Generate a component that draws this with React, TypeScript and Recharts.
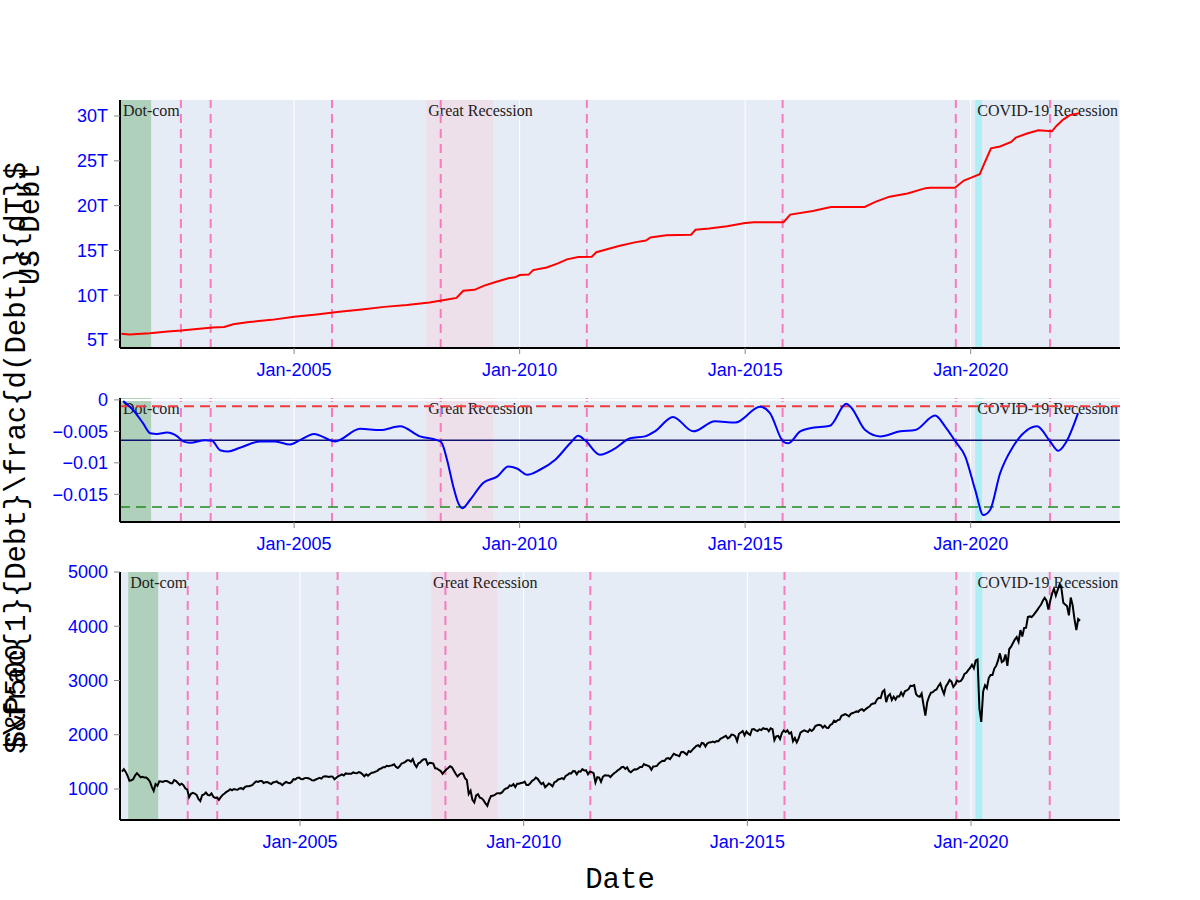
import React from 'react';
import { LineChart, Line, XAxis, YAxis, CartesianGrid, ReferenceArea, ReferenceLine } from 'recharts';

// recessions (decimal years)
const RECESSION_NAMES = ['Dot-com', 'Great Recession', 'COVID-19 Recession'];
const RECESSION_START = [2001.16, 2007.93, 2020.1];
const RECESSION_END = [2001.83, 2009.41, 2020.25];
const RECESSION_FILL = ['#AFD1BB', '#EEE0EA', '#AEEFF5'];

// debt ceiling events
const CEILING_DATES = [2002.49, 2003.15, 2005.84, 2008.25, 2011.49, 2015.83, 2019.67, 2021.76];

const YEAR_TICKS = [2005, 2010, 2015, 2020];

// US debt, trillions
const DEBT_DATES = [
  2001.17, 2001.35, 2001.8, 2002.2, 2002.5, 2002.9, 2003.2, 2003.45, 2003.65, 2004.0,
  2004.5, 2005.0, 2005.5, 2006.0, 2006.5, 2007.0, 2007.5, 2008.0, 2008.3, 2008.6,
  2008.75, 2009.0, 2009.2, 2009.45, 2009.75, 2009.9, 2010.0, 2010.2, 2010.3, 2010.6,
  2010.85, 2011.05, 2011.3, 2011.6, 2011.7, 2012.2, 2012.55, 2012.8, 2012.9, 2013.25,
  2013.8, 2013.9, 2014.2, 2014.6, 2015.0, 2015.2, 2015.85, 2016.0, 2016.5, 2016.9,
  2017.1, 2017.65, 2017.9, 2018.2, 2018.6, 2019.0, 2019.1, 2019.65, 2019.85, 2020.0,
  2020.2, 2020.3, 2020.45, 2020.65, 2020.9, 2021.0, 2021.25, 2021.5, 2021.8, 2021.9,
  2022.05, 2022.2, 2022.4,
];
const DEBT_VALUES = [
  5.7, 5.62, 5.75, 5.95, 6.05, 6.25, 6.4, 6.45, 6.75, 7.0,
  7.25, 7.6, 7.85, 8.15, 8.4, 8.7, 8.9, 9.2, 9.45, 9.7,
  10.5, 10.6, 11.05, 11.45, 11.9, 12.0, 12.25, 12.3, 12.8, 13.1,
  13.55, 14.0, 14.26, 14.3, 14.8, 15.5, 15.9, 16.1, 16.45, 16.7,
  16.75, 17.3, 17.45, 17.7, 18.05, 18.15, 18.15, 19.0, 19.4, 19.85,
  19.85, 19.85, 20.45, 21.0, 21.35, 21.95, 22.0, 22.0, 22.8, 23.1,
  23.5, 24.7, 26.4, 26.6, 27.1, 27.6, 28.05, 28.4, 28.3, 28.9,
  29.6, 30.1, 30.3,
];

// relative growth rate of debt
const GROWTH_DATES = [
  2001.21, 2001.43, 2001.65, 2001.81, 2001.96, 2002.18, 2002.41, 2002.54, 2002.69, 2003.03,
  2003.18, 2003.36, 2003.54, 2003.8, 2004.25, 2004.58, 2004.91, 2005.13, 2005.44, 2005.91,
  2006.46, 2006.91, 2007.35, 2007.79, 2008.17, 2008.26, 2008.39, 2008.53, 2008.64, 2008.73,
  2008.9, 2009.19, 2009.5, 2009.75, 2009.94, 2010.17, 2010.45, 2010.79, 2011.12, 2011.3,
  2011.45, 2011.78, 2012.12, 2012.45, 2012.78, 2013.0, 2013.4, 2013.85, 2014.33, 2014.78,
  2015.33, 2015.55, 2015.84, 2015.95, 2016.22, 2016.44, 2016.88, 2017.24, 2017.35, 2017.66,
  2017.99, 2018.44, 2018.77, 2019.21, 2019.43, 2019.66, 2019.88, 2020.1, 2020.28, 2020.43,
  2020.65, 2020.94, 2021.25, 2021.47, 2021.76, 2021.94, 2022.1, 2022.38,
];
const GROWTH_VALUES = [
  -0.0002, -0.0016, -0.0037, -0.0053, -0.0054, -0.0052, -0.0058, -0.0066, -0.0068, -0.0064,
  -0.0065, -0.008, -0.0082, -0.0076, -0.0066, -0.0066, -0.0071, -0.0064, -0.0054, -0.0066,
  -0.0046, -0.0048, -0.0042, -0.0058, -0.0064, -0.0067, -0.0095, -0.0138, -0.0164, -0.0172,
  -0.0159, -0.0132, -0.0122, -0.0106, -0.0109, -0.0119, -0.0111, -0.0095, -0.0069, -0.0057,
  -0.0064, -0.0087, -0.0077, -0.0061, -0.0058, -0.005, -0.0027, -0.005, -0.0034, -0.0036,
  -0.0011, -0.0021, -0.0066, -0.0069, -0.005, -0.0045, -0.0041, -0.0006, -0.0012, -0.0048,
  -0.0058, -0.005, -0.0048, -0.0025, -0.0042, -0.0066, -0.009, -0.0143, -0.0183, -0.0175,
  -0.0117, -0.0074, -0.0048, -0.0042, -0.0066, -0.0081, -0.0069, -0.0021,
];
const GROWTH_UPPER = -0.001;
const GROWTH_MEAN = -0.0064;
const GROWTH_LOWER = -0.017;

// S&P 500, two readings per month starting Jan 2001
const SP_START = 2001;
const SP500 = [
  1320, 1366, 1315, 1240, 1150, 1160, 1180, 1249, 1290, 1256, 1215, 1224, 1210, 1211, 1180, 1134, 1040, 966, 1090, 1059, 1140, 1139, 1130, 1148,
  1146, 1130, 1107, 1106, 1165, 1147, 1111, 1076, 1098, 1067, 1007, 990, 847, 912, 930, 916, 890, 815, 776, 885, 900, 936, 890, 880,
  918, 855, 834, 841, 800, 848, 890, 916, 945, 963, 995, 975, 1000, 990, 985, 1008, 1015, 996, 1040, 1050, 1050, 1058, 1075, 1112,
  1140, 1131, 1145, 1145, 1110, 1126, 1130, 1107, 1090, 1121, 1130, 1140, 1110, 1101, 1070, 1104, 1130, 1115, 1105, 1130, 1180, 1174, 1205, 1212,
  1185, 1181, 1200, 1203, 1197, 1180, 1160, 1157, 1175, 1191, 1206, 1191, 1228, 1234, 1230, 1220, 1230, 1228, 1180, 1207, 1235, 1249, 1270, 1248,
  1287, 1280, 1280, 1280, 1305, 1294, 1290, 1310, 1300, 1270, 1235, 1270, 1245, 1276, 1300, 1303, 1320, 1335, 1365, 1377, 1400, 1400, 1427, 1418,
  1430, 1438, 1455, 1406, 1387, 1420, 1470, 1482, 1500, 1530, 1530, 1503, 1550, 1455, 1406, 1473, 1490, 1527, 1550, 1549, 1450, 1481, 1480, 1468,
  1380, 1378, 1350, 1330, 1280, 1323, 1360, 1386, 1420, 1400, 1340, 1280, 1230, 1267, 1290, 1283, 1200, 1166, 910, 969, 800, 752, 880, 903,
  840, 826, 790, 735, 690, 798, 870, 873, 890, 919, 920, 919, 940, 987, 1010, 1021, 1065, 1057, 1090, 1036, 1095, 1096, 1110, 1115,
  1136, 1074, 1075, 1104, 1150, 1169, 1210, 1187, 1135, 1089, 1115, 1031, 1065, 1102, 1080, 1049, 1125, 1141, 1176, 1183, 1200, 1180, 1240, 1258,
  1290, 1286, 1330, 1327, 1270, 1326, 1320, 1364, 1340, 1345, 1270, 1321, 1310, 1292, 1120, 1219, 1210, 1131, 1225, 1253, 1250, 1247, 1220, 1258,
  1290, 1312, 1345, 1366, 1400, 1408, 1370, 1398, 1330, 1310, 1340, 1362, 1360, 1379, 1405, 1406, 1460, 1441, 1430, 1412, 1355, 1416, 1420, 1426,
  1472, 1498, 1520, 1515, 1560, 1569, 1550, 1598, 1650, 1631, 1620, 1606, 1680, 1686, 1660, 1633, 1700, 1682, 1720, 1757, 1790, 1806, 1780, 1848,
  1840, 1783, 1840, 1859, 1860, 1872, 1860, 1884, 1880, 1924, 1940, 1960, 1980, 1931, 1955, 2003, 1998, 1972, 1880, 2018, 2040, 2068, 1990, 2059,
  2020, 1995, 2100, 2104, 2080, 2068, 2100, 2086, 2120, 2107, 2110, 2063, 2120, 2104, 1900, 1972, 1980, 1920, 2030, 2079, 2050, 2080, 2020, 2044,
  1880, 1940, 1860, 1932, 2040, 2060, 2080, 2065, 2050, 2097, 2070, 2099, 2160, 2174, 2185, 2171, 2130, 2168, 2130, 2126, 2180, 2199, 2260, 2239,
  2270, 2279, 2350, 2364, 2380, 2363, 2340, 2384, 2400, 2412, 2430, 2423, 2460, 2470, 2440, 2472, 2500, 2519, 2560, 2575, 2580, 2648, 2680, 2674,
  2790, 2824, 2600, 2714, 2750, 2641, 2700, 2648, 2710, 2705, 2780, 2718, 2800, 2816, 2840, 2902, 2900, 2914, 2750, 2711, 2700, 2760, 2550, 2351,
  2600, 2704, 2775, 2784, 2820, 2834, 2900, 2946, 2840, 2752, 2890, 2942, 3010, 2980, 2880, 2926, 3000, 2977, 2990, 3038, 3120, 3141, 3190, 3231,
  3290, 3226, 3370, 3386, 2480, 2237, 2800, 2912, 2860, 3044, 3100, 3100, 3220, 3271, 3370, 3500, 3340, 3363, 3480, 3270, 3580, 3622, 3690, 3756,
  3800, 3714, 3930, 3811, 3970, 3973, 4170, 4181, 4170, 4204, 4250, 4298, 4350, 4395, 4470, 4523, 4470, 4308, 4470, 4605, 4690, 4567, 4670, 4766,
  4700, 4432, 4400, 4374, 4200, 4530, 4390, 4132, 3930, 4132, 4100,
];

const debtData = DEBT_DATES.map((t, i) => ({ t, v: DEBT_VALUES[i] }));
const growthData = GROWTH_DATES.map((t, i) => ({ t, v: GROWTH_VALUES[i] }));
const spData = SP500.map((v, i) => ({ t: SP_START + i / 24 + 1 / 48, v }));

const tickStyle = { fill: '#0000FF', fontSize: 18, fontFamily: "'Liberation Sans', Arial, sans-serif" };
const axisLine = { stroke: '#000', strokeWidth: 2 };
const tickLine = { stroke: '#888' };
const monoFont = "'Liberation Mono', 'DejaVu Sans Mono', monospace";
const PINK = '#F77BBE';

function BandLabel(props: any) {
  const { viewBox, caption } = props;
  if (!viewBox) return null;
  return (
    <text
      x={viewBox.x + 2}
      y={viewBox.y + 16}
      fontFamily="'Liberation Serif', 'Times New Roman', serif"
      fontSize={16}
      fill="#222"
    >
      {caption}
    </text>
  );
}

function bands() {
  return RECESSION_NAMES.map((name, i) => (
    <ReferenceArea
      key={name}
      x1={RECESSION_START[i]}
      x2={RECESSION_END[i]}
      fill={RECESSION_FILL[i]}
      fillOpacity={1}
      stroke="none"
      label={<BandLabel caption={name} />}
    />
  ));
}

function ceilings() {
  return CEILING_DATES.map((d) => (
    <ReferenceLine key={d} x={d} stroke={PINK} strokeWidth={2} strokeDasharray="9 6" />
  ));
}

const xFmt = (v: number) => `Jan-${v}`;

export default function App() {
  return (
    <div style={{ position: 'absolute', left: 0, top: 0, width: 1200, height: 900, background: '#fff' }}>
      <div style={{ position: 'absolute', left: 0, top: 0 }}>
        <LineChart width={1200} height={400} data={debtData} margin={{ top: 100, right: 80, bottom: 0, left: 60 }}>
          <CartesianGrid horizontal={false} stroke="#fff" fill="#E5ECF6" />
          {bands()}
          {ceilings()}
          <XAxis
            dataKey="t"
            type="number"
            domain={[2001.14, 2023.31]}
            allowDataOverflow
            ticks={YEAR_TICKS}
            interval={0}
            tickFormatter={xFmt}
            height={52}
            tick={tickStyle}
            tickLine={tickLine}
            axisLine={axisLine}
            tickSize={6}
            tickMargin={9}
          />
          <YAxis
            type="number"
            domain={[4.11, 31.79]}
            allowDataOverflow
            ticks={[5, 10, 15, 20, 25, 30]}
            interval={0}
            tickFormatter={(v: number) => `${v}T`}
            width={60}
            tick={tickStyle}
            tickLine={tickLine}
            axisLine={axisLine}
            tickSize={6}
            tickMargin={6}
          />
          <Line dataKey="v" type="linear" stroke="#FF0000" strokeWidth={2} dot={false} activeDot={false} isAnimationActive={false} />
        </LineChart>
      </div>

      <div style={{ position: 'absolute', left: 0, top: 390 }}>
        <LineChart width={1200} height={170} data={growthData} margin={{ top: 8, right: 80, bottom: 0, left: 60 }}>
          <CartesianGrid horizontal={false} stroke="#fff" fill="#E5ECF6" />
          {bands()}
          {ceilings()}
          <ReferenceLine y={0} stroke="#fff" strokeWidth={2} />
          <ReferenceLine y={GROWTH_UPPER} stroke="#F03C3C" strokeWidth={2} strokeDasharray="10 6" />
          <ReferenceLine y={GROWTH_LOWER} stroke="#228B22" strokeWidth={1.5} strokeDasharray="10 6" />
          <ReferenceLine y={GROWTH_MEAN} stroke="#101070" strokeWidth={1.5} />
          <XAxis
            dataKey="t"
            type="number"
            domain={[2001.14, 2023.31]}
            allowDataOverflow
            ticks={YEAR_TICKS}
            interval={0}
            tickFormatter={xFmt}
            height={38}
            tick={tickStyle}
            tickLine={tickLine}
            axisLine={axisLine}
            tickSize={6}
            tickMargin={9}
          />
          <YAxis
            type="number"
            domain={[-0.0194, 0.0003]}
            allowDataOverflow
            ticks={[-0.015, -0.01, -0.005, 0]}
            interval={0}
            tickFormatter={(v: number) => (v === 0 ? '0' : `\u2212${Math.abs(v)}`)}
            width={60}
            tick={tickStyle}
            tickLine={tickLine}
            axisLine={axisLine}
            tickSize={6}
            tickMargin={6}
          />
          <Line dataKey="v" type="monotone" stroke="#0000FF" strokeWidth={2} dot={false} activeDot={false} isAnimationActive={false} />
        </LineChart>
      </div>

      <div style={{ position: 'absolute', left: 0, top: 560 }}>
        <LineChart width={1200} height={340} data={spData} margin={{ top: 12, right: 80, bottom: 40, left: 60 }}>
          <CartesianGrid horizontal={false} stroke="#fff" fill="#E5ECF6" />
          {bands()}
          {ceilings()}
          <XAxis
            dataKey="t"
            type="number"
            domain={[2000.976, 2023.33]}
            allowDataOverflow
            ticks={YEAR_TICKS}
            interval={0}
            tickFormatter={xFmt}
            height={40}
            tick={tickStyle}
            tickLine={tickLine}
            axisLine={axisLine}
            tickSize={6}
            tickMargin={9}
          />
          <YAxis
            type="number"
            domain={[428, 5000]}
            allowDataOverflow
            ticks={[1000, 2000, 3000, 4000, 5000]}
            interval={0}
            width={60}
            tick={tickStyle}
            tickLine={tickLine}
            axisLine={axisLine}
            tickSize={6}
            tickMargin={6}
          />
          <Line dataKey="v" type="linear" stroke="#000" strokeWidth={2} dot={false} activeDot={false} isAnimationActive={false} />
        </LineChart>
      </div>

      <svg width={1200} height={900} style={{ position: 'absolute', left: 0, top: 0, pointerEvents: 'none' }}>
        <g fontFamily={monoFont} fontSize={29} fill="#000">
          <text transform="translate(17,458) rotate(-90)" textAnchor="middle" dominantBaseline="central">
            {'$\\frac{1}{Debt}\\frac{d(Debt)}{dT}$'}
          </text>
          <text transform="translate(31,224) rotate(-90)" textAnchor="middle" dominantBaseline="central">
            US Debt
          </text>
          <text transform="translate(17,696) rotate(-90)" textAnchor="middle" dominantBaseline="central">
            S&amp;P500
          </text>
          <text x={620} y={880} textAnchor="middle" dominantBaseline="central">
            Date
          </text>
        </g>
      </svg>
    </div>
  );
}
